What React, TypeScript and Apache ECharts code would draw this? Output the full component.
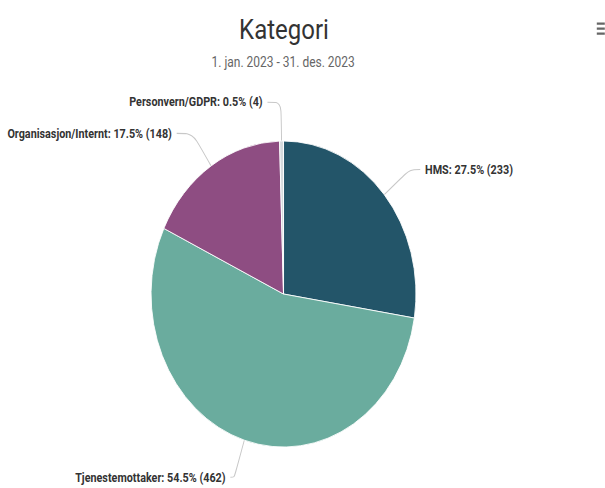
import React, { useEffect, useRef } from "react";
import * as echarts from "echarts";

const titleText = "Kategori";
const subtitleText = "1. jan. 2023 - 31. des. 2023";
const categories = ["HMS", "Tjenestemottaker", "Organisasjon/Internt", "Personvern/GDPR"];
const values = [233, 462, 148, 4];
const colors = ["#235569", "#6aac9e", "#8e4d82", "#d5dadd"];
const connectorLength2 = [13, 5, 20, 17];

const SX = 0.8;
const SY = 0.924;
const W = 605 / SX;
const H = 488 / SY;

export default function App() {
  const ref = useRef<HTMLDivElement>(null);
  useEffect(() => {
    if (!ref.current) return;
    const chart = echarts.init(ref.current, null, { renderer: "svg" });
    const font = "Roboto, 'Noto Sans', sans-serif";
    chart.setOption({
      animation: false,
      backgroundColor: "#ffffff",
      title: [
        {
          text: titleText,
          left: 355,
          top: 16.5,
          textAlign: "center",
          padding: 0,
          textStyle: { fontFamily: font, fontSize: 30, fontWeight: "normal", color: "#333333" },
        },
        {
          text: subtitleText,
          left: 354,
          top: 60,
          textAlign: "center",
          padding: 0,
          textStyle: { fontFamily: font, fontSize: 15, fontWeight: "normal", color: "#666666" },
        },
      ],
      graphic: [
        { type: "rect", left: 746, top: 24.4, shape: { width: 14, height: 2.5 }, style: { fill: "#666666" } },
        { type: "rect", left: 746, top: 29.8, shape: { width: 14, height: 2.5 }, style: { fill: "#666666" } },
        { type: "rect", left: 746, top: 35.2, shape: { width: 14, height: 2.5 }, style: { fill: "#666666" } },
      ],
      series: [
        {
          type: "pie",
          center: [354.4, 318.2],
          radius: 165.6,
          startAngle: 90,
          clockwise: true,
          percentPrecision: 1,
          avoidLabelOverlap: false,
          color: colors,
          itemStyle: { borderColor: "#ffffff", borderWidth: 1 },
          label: {
            show: true,
            position: "outside",
            formatter: "{b}: {d}% ({c})",
            fontFamily: font,
            fontSize: 13.5,
            fontWeight: "bold",
            color: "#333333",
            distanceToLabelLine: 6,
          },
          labelLine: {
            show: true,
            length: 42,
            length2: 13,
            smooth: 0.3,
            lineStyle: { color: "#c8c8c8", width: 1.2 },
          },
          emphasis: { disabled: true },
          data: categories.map((name, i) => ({
            name,
            value: values[i],
            labelLine: { length2: connectorLength2[i] },
          })),
        },
      ],
    });
    return () => chart.dispose();
  }, []);
  return (
    <div
      ref={ref}
      style={{
        position: "fixed",
        left: 0,
        top: 0,
        width: W + "px",
        height: H + "px",
        transform: `scale(${SX}, ${SY})`,
        transformOrigin: "0 0",
      }}
    />
  );
}
